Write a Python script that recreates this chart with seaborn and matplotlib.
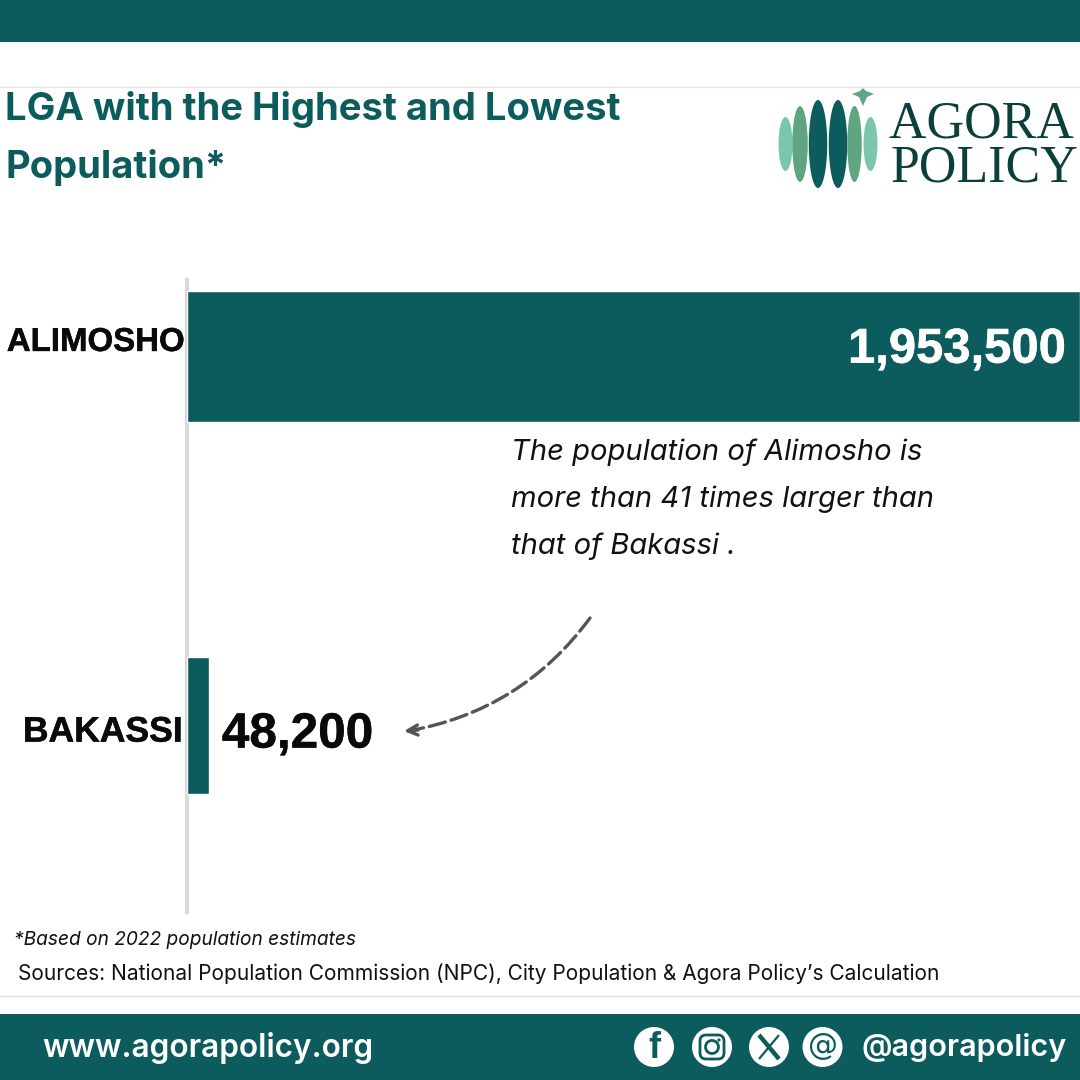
import matplotlib
matplotlib.use("Agg")
import matplotlib.pyplot as plt
from matplotlib.patches import Rectangle, Ellipse, Circle, FancyArrowPatch, FancyBboxPatch, Polygon
import matplotlib.patheffects as pe
import pandas as pd
import seaborn as sns

lgas = ["ALIMOSHO", "BAKASSI"]
population = [1953500, 48200]
value_labels = ["1,953,500", "48,200"]

title_lines = ["LGA with the Highest and Lowest", "Population*"]
note_lines = ["The population of Alimosho is", "more than 41 times larger than", "that of Bakassi ."]
footnote = "*Based on 2022 population estimates"
sources = "Sources: National Population Commission (NPC), City Population & Agora Policy\u2019s Calculation"
website = "www.agorapolicy.org"
handle = "@agorapolicy"

TEAL = "#0C5C5E"
sns.set_theme(style="white")
plt.rcParams["font.family"] = ["Liberation Sans", "DejaVu Sans"]

fig = plt.figure(figsize=(10.8, 10.8), dpi=100, facecolor="white")

# overlay in pixel coords for the page furniture
page = fig.add_axes([0, 0, 1, 1], zorder=0)
page.set_xlim(0, 1080)
page.set_ylim(1080, 0)
page.axis("off")


def px(size):
    return size * 0.72


page.add_patch(Rectangle((0, 0), 1080, 42, color=TEAL, lw=0))
page.add_patch(Rectangle((0, 1014), 1080, 66, color=TEAL, lw=0))
page.plot([0, 1080], [87, 87], color="#E4E6EA", lw=1)
page.plot([0, 1080], [996, 996], color="#DDE0E2", lw=1)

for line, y in zip(title_lines, [109, 167]):
    page.text(5, y, line, family="Inter", weight="bold", fontsize=px(38.2), color=TEAL, va="center", ha="left")

for line, y in zip(note_lines, [452, 499, 546]):
    page.text(511, y, line, family="Inter", style="italic", fontsize=px(29.2), color="#111111", va="center", ha="left")

page.text(14, 940, footnote, family="Inter", style="italic", fontsize=px(19.1), color="#111111", va="center")
page.text(18, 974, sources, family="Inter", fontsize=px(20.9), color="#111111", va="center")

page.text(42, 1048, website, family="Inter", weight="semibold", fontsize=px(31.6), color="white", va="center")
page.text(1067, 1048, handle, family="Inter", weight="semibold", fontsize=px(30.6), color="white", va="center", ha="right")

# logo
for cx, w, h, c in [(785.5, 14, 54, "#7CC6AE"), (800, 15.5, 76, "#5FA582"), (818, 18.5, 88, TEAL),
                    (838, 18.5, 88, TEAL), (854.5, 14.5, 76, "#5FA582"), (870.5, 14, 54, "#7CC6AE")]:
    page.add_patch(Ellipse((cx, 144), w, h, color=c, lw=0))
page.add_patch(Polygon([(852, 94), (860, 91), (863, 88), (866, 91), (874, 94), (867, 97), (863, 106), (859, 97)],
                       color="#5FA582", lw=0))
page.text(1078, 192, "AGORA\u200a\nPOLICY", family=["Liberation Serif", "DejaVu Serif"], fontsize=px(52), color="#0B3F3C",
          ha="right", va="bottom", multialignment="right", linespacing=0.87)

# social icons
for cx in [654, 712, 769, 822.5]:
    page.add_patch(Circle((cx, 1047), 20, color="white", lw=0))
page.text(654, 1049, "f", family="Liberation Sans", weight="bold", fontsize=px(36), color=TEAL, ha="center", va="center")
page.add_patch(FancyBboxPatch((700, 1035), 24, 24, boxstyle="round,pad=0,rounding_size=6", fc="none", ec=TEAL, lw=2))
page.add_patch(Circle((712, 1047), 6.5, fc="none", ec=TEAL, lw=2))
page.add_patch(Circle((719, 1040), 1.6, color=TEAL, lw=0))
page.plot([759, 779], [1035, 1059], color=TEAL, lw=3.2, solid_capstyle="butt")
page.plot([779, 759], [1035, 1059], color=TEAL, lw=1.6, solid_capstyle="butt")
page.text(822.5, 1047, "@", family="DejaVu Sans", fontsize=px(30), color=TEAL, ha="center", va="center")

# arrow
page.add_patch(FancyArrowPatch((590, 618), (408, 731), connectionstyle="arc3,rad=-0.2", arrowstyle="-",
                               linestyle=(0, (5, 1.8)), lw=2.4, color="#555555", shrinkA=0, shrinkB=0))
page.add_patch(FancyArrowPatch((418, 730), (404, 731), arrowstyle="->", mutation_scale=18, lw=2.4,
                               color="#555555", shrinkA=0, shrinkB=0))

# the bars
ax = fig.add_axes([187 / 1080, 1 - 912 / 1080, 893 / 1080, 632 / 1080], zorder=1)
ax.patch.set_alpha(0)
df = pd.DataFrame({"lga": lgas, "population": population})
sns.barplot(data=df, y="lga", x="population", color=TEAL, saturation=1, width=0.355, ax=ax)
ax.set_xlim(0, 1953500)
ax.set_ylim(1.505, -0.206)
ax.set_xlabel("")
ax.set_ylabel("")
ax.set_xticks([])
ax.set_yticks([])
sns.despine(ax=ax, top=True, right=True, bottom=True)
ax.spines["left"].set_color("#D9D9D9")
ax.spines["left"].set_linewidth(3)
ax.spines["left"].set_zorder(0.5)

# the small bar is drawn a bit taller in the original
ax.patches[1].set_y(1 - 0.185)
ax.patches[1].set_height(0.37)

heavy = [pe.withStroke(linewidth=0.35, foreground="#0A0A0A")]
heavy_w = [pe.withStroke(linewidth=0.35, foreground="white")]
ax.text(-0.002 * 1953500, -0.037, lgas[0], ha="right", va="center", weight="bold", fontsize=px(33), color="#0A0A0A", path_effects=heavy)
ax.text(-0.005 * 1953500, 1.018, lgas[1], ha="right", va="center", weight="bold", fontsize=px(35.5), color="#0A0A0A", path_effects=heavy)
ax.text(population[0] * 0.9925 - 18000, -0.016, value_labels[0], ha="right", va="center", weight="bold", fontsize=px(49), color="white", path_effects=heavy_w)
ax.text(population[1] + 28000, 1.026, value_labels[1], ha="left", va="center", weight="bold", fontsize=px(49.5), color="#0A0A0A", path_effects=heavy)

fig.savefig("out.png", dpi=100)
